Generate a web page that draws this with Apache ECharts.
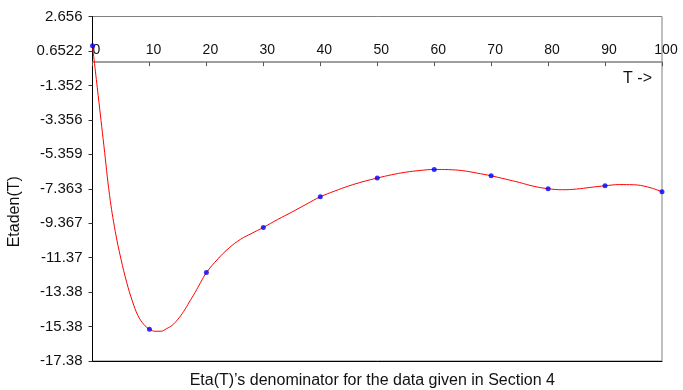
<!DOCTYPE html>
<html>
<head>
<meta charset="utf-8">
<script src="https://cdn.jsdelivr.net/npm/echarts@6/dist/echarts.min.js"></script>
<style>
  html, body { margin: 0; padding: 0; background: #fff; }
  #chart { width: 683px; height: 390px; }
</style>
</head>
<body>
<div id="chart"></div>
<script>
// Smoothed curve of Eta(T)'s denominator
const curveT = [0, 1, 2, 3, 4, 5, 6, 7, 8, 9, 10, 11, 12, 13, 14, 15, 16, 17, 18, 19, 20,
  22, 24, 26, 28, 30, 32.5, 35, 37.5, 40, 42.5, 45, 47.5, 50, 52.5, 55, 57.5, 60,
  62.5, 65, 67.5, 70, 72.5, 75, 77.5, 80, 82.5, 85, 87.5, 90, 92.5, 95, 97.5, 100];
const curveV = [0.95, -1.95, -4.85, -7.75, -9.85, -11.45, -12.8, -13.9, -14.75, -15.25, -15.53,
  -15.65, -15.65, -15.5, -15.3, -14.95, -14.5, -13.95, -13.4, -12.8, -12.24,
  -11.45, -10.8, -10.3, -9.95, -9.61, -9.15, -8.72, -8.27, -7.83, -7.5, -7.2, -6.95,
  -6.74, -6.55, -6.4, -6.3, -6.24, -6.25, -6.31, -6.45, -6.61, -6.8, -7.0, -7.22,
  -7.36, -7.42, -7.38, -7.28, -7.19, -7.12, -7.13, -7.26, -7.54];

// Sampled values at every 10 units of T
const pointT = [0, 10, 20, 30, 40, 50, 60, 70, 80, 90, 100];
const pointV = [0.95, -15.53, -12.24, -9.61, -7.83, -6.74, -6.24, -6.61, -7.36, -7.19, -7.54];

// Value-axis tick labels, bottom to top
const yTickLabels = ['-17.38', '-15.38', '-13.38', '-11.37', '-9.367', '-7.363',
  '-5.359', '-3.356', '-1.352', '0.6522', '2.656'];
const yMin = -17.38, yMax = 2.656, yStep = 2.0036;

const font = 'Liberation Sans, Arial, Helvetica, sans-serif';

// Plot box in pixels
const W = 683, H = 390;
const gridLeft = 92.5, gridRight = 21, gridTop = 16.5, gridBottom = 29;
const plotH = H - gridTop - gridBottom;
// The T axis crosses the value axis at zero: shift it down from the top edge
const zeroOffset = -(yMax / (yMax - yMin)) * plotH;

const chart = echarts.init(document.getElementById('chart'), null, { renderer: 'canvas' });
chart.setOption({
  animation: false,
  backgroundColor: '#ffffff',
  grid: {
    left: gridLeft, right: gridRight, top: gridTop, bottom: gridBottom,
    containLabel: false, outerBoundsMode: 'none',
    show: true, borderColor: '#808080', borderWidth: 1, backgroundColor: 'transparent'
  },
  xAxis: [
    {
      type: 'value', min: 0, max: 100, interval: 10, position: 'top', offset: zeroOffset,
      axisLine: { onZero: false, lineStyle: { color: '#808080', width: 1.5 } },
      axisTick: { show: true, inside: true, length: 4, lineStyle: { color: '#555' } },
      axisLabel: {
        margin: 5, color: '#111', fontFamily: font, fontSize: 14,
        padding: [0, 0, 0, 8]
      },
      splitLine: { show: false },
      name: 'T ->', nameLocation: 'end', nameGap: -10,
      nameTextStyle: {
        color: '#111', fontFamily: font, fontSize: 16,
        align: 'right', verticalAlign: 'top', padding: [8, 0, 0, 0]
      }
    },
    {
      type: 'value', min: 0, max: 100, position: 'bottom',
      axisLine: { onZero: false, lineStyle: { color: '#000', width: 1 } },
      axisTick: { show: false }, axisLabel: { show: false }, splitLine: { show: false },
      name: 'Eta(T)\u2019s denominator for the data given in Section 4',
      nameLocation: 'middle', nameGap: 12,
      nameTextStyle: { color: '#111', fontFamily: font, fontSize: 16, padding: [0, 10, 0, 0] }
    }
  ],
  yAxis: {
    type: 'value', min: yMin, max: yMax, interval: yStep, position: 'left',
    axisLine: { show: true, onZero: false, lineStyle: { color: '#000', width: 1 } },
    axisTick: { show: true, inside: false, length: 4, lineStyle: { color: '#333' } },
    axisLabel: {
      margin: 10, color: '#111', fontFamily: font, fontSize: 15,
      formatter: function (v) {
        const i = Math.round((v - yMin) / yStep);
        return yTickLabels[i] !== undefined ? yTickLabels[i] : '';
      }
    },
    splitLine: { show: false },
    name: 'Etaden(T)', nameLocation: 'middle', nameGap: 70, nameRotate: 90,
    nameTextStyle: { color: '#111', fontFamily: font, fontSize: 16, padding: [0, 46, 0, 0] }
  },
  series: [
    {
      type: 'line', xAxisIndex: 0,
      data: curveT.map((t, i) => [t, curveV[i]]),
      smooth: 0.4, showSymbol: false, symbol: 'none',
      lineStyle: { color: '#ff0000', width: 1 }, z: 2
    },
    {
      type: 'scatter', xAxisIndex: 0,
      data: pointT.map((t, i) => [t, pointV[i]]),
      symbol: 'circle', symbolSize: 5,
      itemStyle: { color: '#0000ff' }, z: 3
    }
  ]
});
</script>
</body>
</html>
